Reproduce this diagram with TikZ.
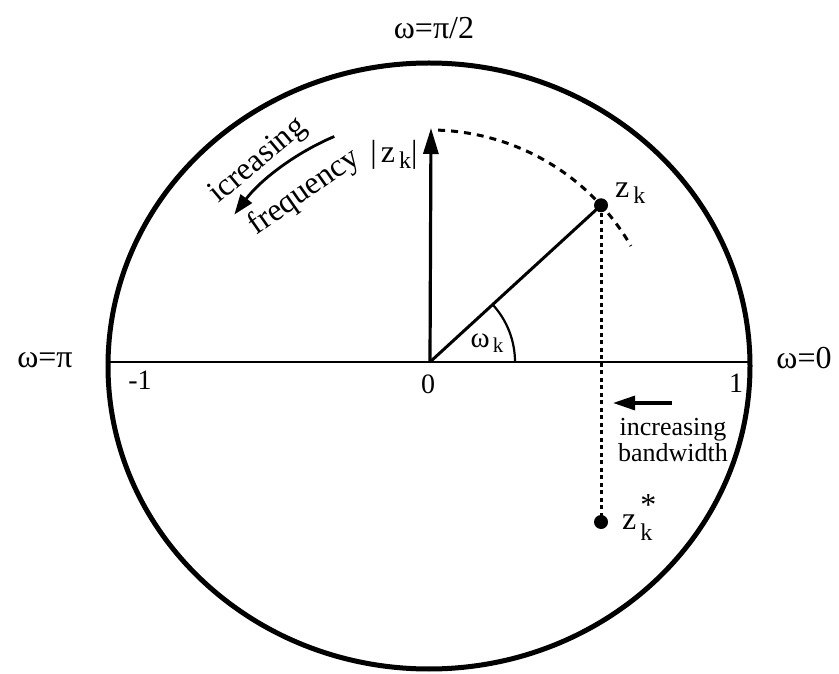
\documentclass[tikz,border=0pt]{standalone}
\usepackage{fontspec}
\setmainfont{Liberation Serif}
\usetikzlibrary{arrows.meta}
\newcommand{\lowk}[1]{\raisebox{-#1}{\fontsize{24}{24}\selectfont k}}

\begin{document}
\begin{tikzpicture}[x=1pt,y=1pt,
  lbl/.style={font=\fontsize{32}{30}\selectfont,inner sep=0pt,align=center},
  rim/.style={line width=5pt},
  axis/.style={line width=2.2pt},
  vec/.style={line width=3.2pt,-{Triangle[length=26pt,width=15pt]}},
  arcarrow/.style={line width=2.8pt,-{Triangle[length=20pt,width=14pt]}},
  radius line/.style={line width=3pt},
  locus/.style={line width=3pt,dash pattern=on 7pt off 6pt},
  conj/.style={line width=3pt,dash pattern=on 4pt off 3.5pt},
  dot/.style={circle,fill=black,inner sep=0pt,minimum size=14pt}]
\useasboundingbox (0,0) rectangle (839,673);
\fill[white] (0,0) rectangle (839,673);
% unit circle and real axis
\coordinate (C) at (429,307);
\coordinate (O) at (430,311);
\coordinate (W) at (108,311); \coordinate (E) at (750,311);
\draw[rim] (C) ellipse[x radius=321,y radius=303];
\draw[axis] (W) -- (E);
\node[lbl] (wtop) at (434,645) {ω=π/2};
\node[lbl] (wpi) at (45,313) {ω=π};
\node[lbl] (wzero) at (804,315) {ω=0};
\node[lbl,font=\fontsize{28}{30}\selectfont] (m1) at (140,293) {-1};
\node[lbl,font=\fontsize{28}{30}\selectfont] (n0) at (428,289) {0};
\node[lbl,font=\fontsize{28}{30}\selectfont] (p1) at (736,290) {1};
% pole, its magnitude and angle
\coordinate (tip) at (431,545);
\node[dot] (zk) at ([shift={(O)}]42.5:232) {};
\node[dot] (zks) at (zk |- 0,151) {};
\draw[vec] (O) -- (tip);
\draw[radius line] (O) -- (zk.center);
\draw[axis] ([shift={(O)}]0:85) arc[start angle=0,end angle=42.5,radius=85];
\draw[locus] ([shift={(O)}]88:232) arc[start angle=88,end angle=30,radius=232];
\draw[conj] (zk.center) -- (zks.center);
\node[lbl,anchor=base west] (zkl) at (615,475) {z\kern4pt\lowk{6pt}};
\node[lbl,anchor=base west] (zksl) at (622,143)
  {z\kern4pt\rlap{\raisebox{0.45em}{*}}\lowk{11pt}};
\node[lbl] (mag) at (394,518) {|\kern4pt z\kern4pt\lowk{6pt}|};
\node[lbl,font=\fontsize{29}{30}\selectfont] (wk) at (487,330)
  {ω\kern3pt\raisebox{-5pt}{\fontsize{21}{21}\selectfont k}};
% frequency and bandwidth directions
\draw[arcarrow] ([shift={(O)}]113:245) arc[start angle=113,end angle=143,radius=245];
\node[lbl,rotate=40] (icr) at ([shift={(O)}]130.5:264) {icreasing};
\node[lbl,rotate=35] (freq) at ([shift={(O)}]126.5:211) {frequency};
\coordinate (bwR) at (672,270); \coordinate (bwL) at (613,270);
\draw[vec,-{Triangle[length=22pt,width=14pt]}] (bwR) -- (bwL);
\node[lbl,font=\fontsize{26}{26}\selectfont] (bw) at (673,233) {increasing\\bandwidth};
\end{tikzpicture}
\end{document}
